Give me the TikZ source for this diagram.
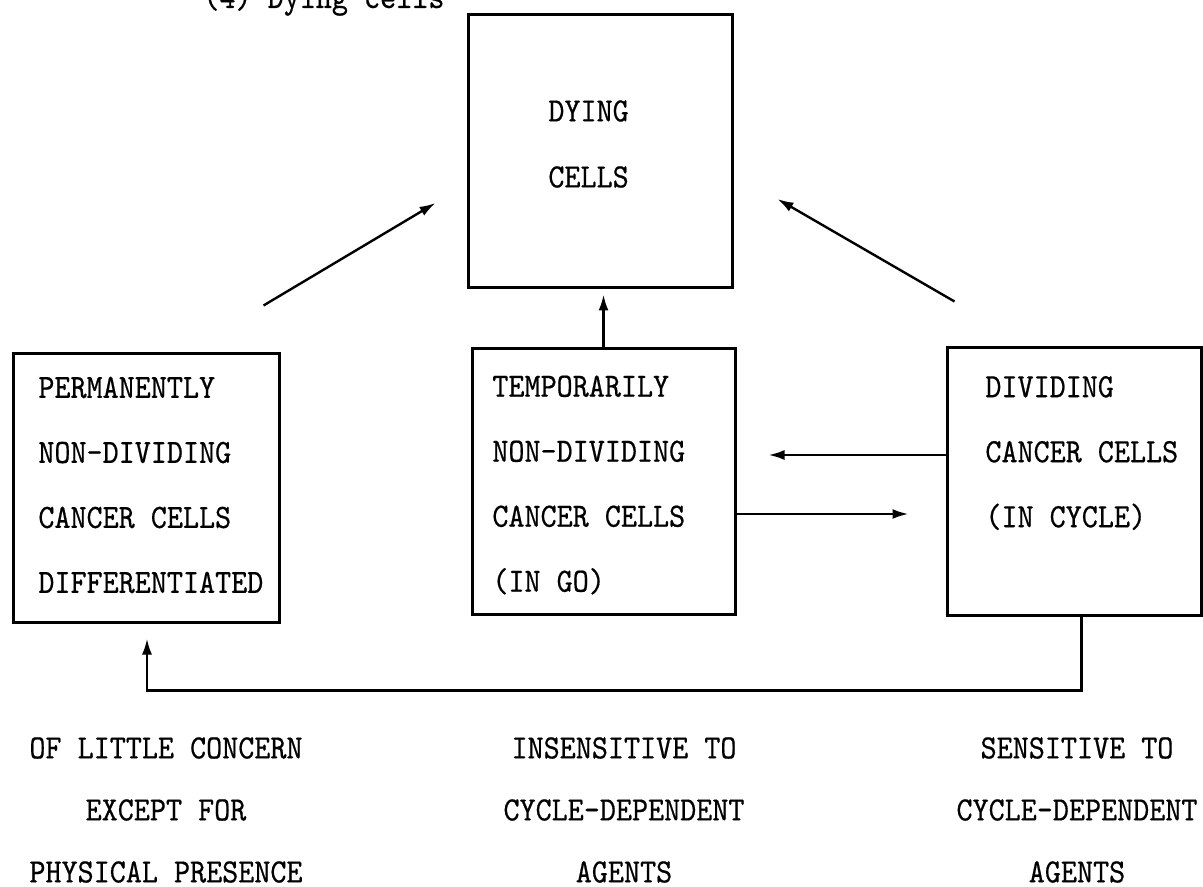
\documentclass[tikz,border=0pt]{standalone}
\usepackage{fontspec}
\usetikzlibrary{arrows.meta,calc}
\newfontfamily\typer{lmmono10-regular}[Extension=.otf, FakeStretch=0.9, FakeBold=0.5]
\tikzset{
  cellbox/.style={draw, line width=1.5pt, inner sep=0pt},
  flow/.style={-{Latex[length=8pt,width=5pt]}, line width=1.2pt},
  boxtxt/.style={font=\typer\fontsize{17}{32.5}\selectfont, align=left, inner sep=0pt},
  foottxt/.style={font=\typer\fontsize{17}{31}\selectfont, align=center, inner sep=0pt},
}
\begin{document}
\begin{tikzpicture}[x=0.5pt,y=-0.5pt]
  \useasboundingbox (0,0) rectangle (1203,887);
  \clip (0,0) rectangle (1203,887);

  % the four boxes
  \node[cellbox, minimum width=132pt, minimum height=136.5pt] (dying) at (600,151.5) {};
  \node[cellbox, minimum width=133pt, minimum height=134.5pt] (perm) at (146,487.5) {};
  \node[cellbox, minimum width=131.5pt, minimum height=133pt] (temp) at (603.5,481) {};
  \node[cellbox, minimum width=127pt, minimum height=134pt] (divid) at (1074,481) {};

  % texts
  \node[boxtxt, anchor=base west] (title) at (203,8) {(4) Dying cells};
  \node[boxtxt, anchor=west, font=\typer\fontsize{17}{33}\selectfont] (dyingtxt) at (548,144) {DYING\\CELLS};
  \node[boxtxt, anchor=west] (permtxt) at (38,485) {PERMANENTLY\\NON-DIVIDING\\CANCER CELLS\\DIFFERENTIATED};
  \node[boxtxt, anchor=west] (temptxt) at (492,485) {TEMPORARILY\\NON-DIVIDING\\CANCER CELLS\\(IN GO)};
  \node[boxtxt, anchor=west] (dividtxt) at (985,453) {DIVIDING\\CANCER CELLS\\(IN CYCLE)};

  \node[foottxt] (permnote) at (166,810) {OF LITTLE CONCERN\\EXCEPT FOR\\PHYSICAL PRESENCE};
  \node[foottxt] (tempnote) at (624,810) {INSENSITIVE TO\\CYCLE-DEPENDENT\\AGENTS};
  \node[foottxt] (dividnote) at (1077,810) {SENSITIVE TO\\CYCLE-DEPENDENT\\AGENTS};

  % arrows
  \draw[flow, shorten >=2.5pt] (temp.north) -- (temp.north |- dying.south);
  \draw[flow] ($(perm.north east)+(-17,-46)$) -- ($(dying.west)+(-31,51.5)$);
  \draw[flow] ($(divid.north west)+(9,-44)$) -- ($(dying.east)+(44,47.5)$);
  \draw[flow] ($(divid.west)+(0,-26)$) -- ($(temp.east)+(32,-26)$);
  \draw[flow] ($(temp.east)+(0,33)$) -- ($(divid.west)+(-37,33)$);
  \draw[flow] ($(divid.south west)+(136,0)$) -- ++(0,74) -| ($(perm.south)+(1,15)$);
\end{tikzpicture}
\end{document}
